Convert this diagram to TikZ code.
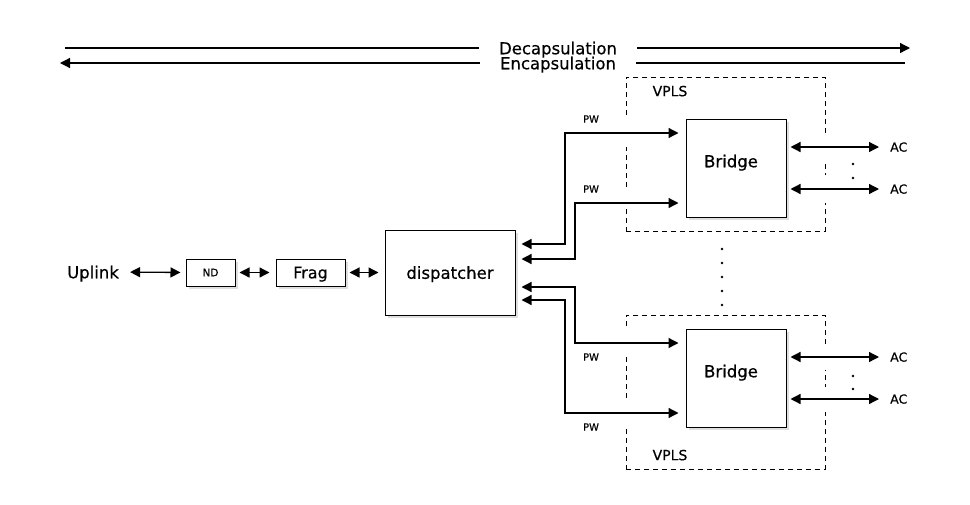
\documentclass[tikz,border=0pt]{standalone}
\usepackage{fontspec}
\setmainfont{DejaVu Sans}[FakeBold=0.5]
\usetikzlibrary{arrows.meta,shadows}
\begin{document}
\begin{tikzpicture}[x=1pt,y=-1pt,
  tip/.tip={Triangle[length=10pt,width=10pt]},
  box/.style={draw, line width=1pt, fill=white, inner sep=0pt, text depth=0pt,
    drop shadow={shadow xshift=2.5pt, shadow yshift=-2.5pt, opacity=0.25}},
  vplsbox/.style={draw, line width=0.9pt, dash pattern=on 5pt off 4pt, inner sep=0pt},
  big/.style={font=\fontsize{16.5}{18}\selectfont, inner sep=0pt, text depth=0pt},
  small/.style={font=\fontsize{10}{12}\selectfont, inner sep=0pt, text depth=0pt},
  aclbl/.style={font=\fontsize{12.5}{14}\selectfont, inner sep=0pt, text depth=0pt},
  vplslbl/.style={font=\fontsize{14}{16}\selectfont, inner sep=0pt, text depth=0pt},
  conn/.style={line width=1.3pt},
  bi/.style={conn, tip-tip},
  gap/.style={fill=white, draw=none},
  dot/.style={fill=black, draw=none}]
\useasboundingbox (0,0) rectangle (970,504);

% top direction arrows
\node[big, inner xsep=20pt] (dec) at (558,48) {Decapsulation};
\node[big, inner xsep=20pt] (enc) at (558,63) {Encapsulation};
\coordinate (decl) at (65,48);
\coordinate (decr) at (910,48);
\coordinate (encl) at (60,63);
\coordinate (encr) at (905,63);
\draw[conn] (decl) -- (dec.west);
\draw[conn, -tip] (dec.east) -- (decr);
\draw[conn, tip-] (encl) -- (enc.west);
\draw[conn] (enc.east) -- (encr);

% VPLS dashed areas
\node[vplsbox, minimum width=199pt, minimum height=154pt] (v1) at (725.5,154) {};
\node[vplsbox, minimum width=199pt, minimum height=154pt] (v2) at (725.5,392) {};
\fill[gap] (622,118) rectangle (630,147);
\fill[gap] (622,188) rectangle (630,208);
\fill[gap] (821,133) rectangle (829,160);
\fill[gap] (821,175) rectangle (829,203);
\fill[gap] (622,330) rectangle (630,355);
\fill[gap] (622,402) rectangle (630,429);
\fill[gap] (821,344) rectangle (829,370);
\fill[gap] (821,387) rectangle (829,412);
\node[vplslbl] (vl1) at (670,91) {VPLS};
\node[vplslbl] (vl2) at (670,455) {VPLS};

% main chain
\node[big] (uplink) at (93,272) {Uplink};
\node[box, font=\fontsize{10.5}{12}\selectfont, minimum width=49pt, minimum height=27pt] (nd) at (210.5,272.5) {ND};
\node[box, font=\fontsize{16}{18}\selectfont, minimum width=69pt, minimum height=27pt] (frag) at (310.5,272.5) {Frag};
\node[box, font=\fontsize{16.5}{18}\selectfont, minimum width=130pt, minimum height=85pt] (disp) at (450,272.5) {dispatcher};

\draw[bi, shorten <=11pt, shorten >=5pt] (uplink.east) -- (nd.west);
\draw[bi, shorten <=4pt, shorten >=6pt] (nd.east) -- (frag.west);
\draw[bi, shorten <=4pt, shorten >=6pt] (frag.east) -- (disp.west);

% bridges
\node[box, minimum width=100pt, minimum height=98pt] (b1) at (736,168) {};
\node[big] (b1t) at (731,161) {Bridge};
\node[box, minimum width=100pt, minimum height=98pt] (b2) at (736,378) {};
\node[big] (b2t) at (731,371) {Bridge};

% pseudowires
\draw[bi, shorten <=6pt, shorten >=7pt] (disp.east |- 0,244) -- (565,244) -- (565,133) -- (b1.west |- 0,133);
\draw[bi, shorten <=6pt, shorten >=7pt] (disp.east |- 0,259) -- (575,259) -- (575,203) -- (b1.west |- 0,203);
\draw[bi, shorten <=6pt, shorten >=7pt] (disp.east |- 0,287) -- (575,287) -- (575,343) -- (b2.west |- 0,343);
\draw[bi, shorten <=6pt, shorten >=7pt] (disp.east |- 0,300) -- (565,300) -- (565,413) -- (b2.west |- 0,413);
\node[small] (pw1) at (591,119) {PW};
\node[small] (pw2) at (591,189) {PW};
\node[small] (pw3) at (591,357) {PW};
\node[small] (pw4) at (591,427) {PW};

% attachment circuits
\node[aclbl, anchor=west] (ac1) at (890,147) {AC};
\node[aclbl, anchor=west] (ac2) at (890,189) {AC};
\node[aclbl, anchor=west] (ac3) at (890,357) {AC};
\node[aclbl, anchor=west] (ac4) at (890,399) {AC};
\draw[bi, shorten <=4pt, shorten >=11pt] (b1.east |- ac1.west) -- (ac1.west);
\draw[bi, shorten <=4pt, shorten >=11pt] (b1.east |- ac2.west) -- (ac2.west);
\draw[bi, shorten <=4pt, shorten >=11pt] (b2.east |- ac3.west) -- (ac3.west);
\draw[bi, shorten <=4pt, shorten >=11pt] (b2.east |- ac4.west) -- (ac4.west);

% dots
\fill[dot] (853,164) circle (1.4pt);
\fill[dot] (853,178) circle (1.4pt);
\fill[dot] (853,376) circle (1.4pt);
\fill[dot] (853,389) circle (1.4pt);
\foreach \yy in {249,263,277,291,305} {\fill[dot] (722,\yy) circle (1.4pt);}
\end{tikzpicture}
\end{document}
